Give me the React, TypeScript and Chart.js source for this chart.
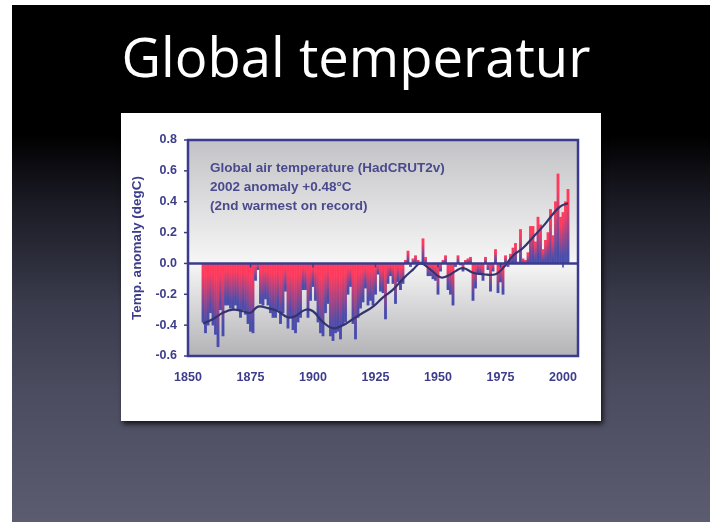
import React, { useEffect, useRef } from "react";
import { Chart, registerables } from "chart.js";

Chart.register(...registerables);

// ---- data ----
const FIRST_YEAR = 1856;
const ANOMALY = [
  -0.38, -0.45, -0.40, -0.32, -0.40, -0.46, -0.54, -0.30, -0.47, -0.27,
  -0.27, -0.29, -0.30, -0.27, -0.30, -0.35, -0.30, -0.33, -0.39, -0.44,
  -0.45, -0.11, -0.04, -0.26, -0.27, -0.23, -0.27, -0.32, -0.35, -0.35,
  -0.30, -0.39, -0.32, -0.18, -0.42, -0.35, -0.43, -0.45, -0.38, -0.35,
  -0.17, -0.17, -0.35, -0.24, -0.15, -0.24, -0.38, -0.45, -0.47, -0.32,
  -0.26, -0.47, -0.50, -0.45, -0.44, -0.49, -0.40, -0.38, -0.20, -0.15,
  -0.39, -0.49, -0.35, -0.29, -0.25, -0.16, -0.27, -0.24, -0.27, -0.20,
  -0.07, -0.18, -0.19, -0.36, -0.13, -0.08, -0.13, -0.26, -0.12, -0.17,
  -0.13, 0.02, 0.08, -0.02, 0.03, 0.05, 0.02, 0.01, 0.16, 0.04,
  -0.08, -0.08, -0.10, -0.11, -0.20, -0.05, 0.02, 0.05, -0.17, -0.20,
  -0.27, -0.02, 0.05, -0.01, -0.05, 0.02, 0.03, 0.04, -0.24, -0.16,
  -0.06, -0.07, -0.11, 0.04, -0.04, -0.18, -0.05, 0.09, -0.19, -0.12,
  -0.20, 0.05, -0.02, 0.06, 0.10, 0.13, 0.01, 0.22, 0.03, 0.02,
  0.07, 0.24, 0.24, 0.14, 0.30, 0.25, 0.09, 0.15, 0.20, 0.35,
  0.18, 0.40, 0.58, 0.30, 0.33, 0.40, 0.48,
];
const SMOOTH_YEARS = [
  1856, 1860, 1864, 1868, 1872, 1875, 1878, 1882, 1886, 1890, 1893, 1897,
  1900, 1904, 1908, 1912, 1916, 1920, 1924, 1928, 1932, 1936, 1940, 1943,
  1947, 1951, 1954, 1957, 1960, 1964, 1968, 1973, 1976, 1980, 1984, 1988,
  1992, 1996, 1999, 2002,
];
const SMOOTH_VALUES = [
  -0.39, -0.36, -0.32, -0.30, -0.31, -0.32, -0.28, -0.29, -0.31, -0.35, -0.34, -0.30,
  -0.31, -0.38, -0.42, -0.40, -0.36, -0.32, -0.28, -0.22, -0.17, -0.10, -0.04, 0.0,
  -0.04, -0.09, -0.08, -0.05, -0.03, -0.06, -0.07, -0.07, -0.03, 0.05, 0.10, 0.17,
  0.24, 0.32, 0.37, 0.39,
];
const X_TICKS = [1850, 1875, 1900, 1925, 1950, 1975, 2000];
const Y_TICKS = [-0.6, -0.4, -0.2, 0.0, 0.2, 0.4, 0.6, 0.8];
const NOTE_LINES = [
  "Global air temperature (HadCRUT2v)",
  "2002 anomaly +0.48\u00B0C",
  "(2nd warmest on record)",
];

const NAVY = "#3b3b8d";
const TEXT_NAVY = "#3d3d8c";
const RED = "#ff3a5c";
const BLUE = "#4a4cab";
const FONT = "'Liberation Sans', Arial, sans-serif";

const framePlugin = {
  id: "frame",
  beforeDatasetsDraw(chart: any) {
    const { ctx, chartArea: a, scales } = chart;
    const y0 = scales.y.getPixelForValue(0);
    const g = ctx.createLinearGradient(0, a.top, 0, a.bottom);
    const z = (y0 - a.top) / (a.bottom - a.top);
    g.addColorStop(0, "#c3c3c7");
    g.addColorStop(z, "#f6f6f6");
    g.addColorStop(1, "#b3b3b7");
    ctx.save();
    ctx.fillStyle = g;
    ctx.fillRect(a.left, a.top, a.right - a.left, a.bottom - a.top);
    ctx.restore();
  },
  afterDatasetsDraw(chart: any) {
    const { ctx, chartArea: a, scales } = chart;
    const y0 = scales.y.getPixelForValue(0);
    ctx.save();
    ctx.strokeStyle = NAVY;
    ctx.lineWidth = 2.5;
    ctx.beginPath();
    ctx.moveTo(a.left, y0);
    ctx.lineTo(a.right, y0);
    ctx.stroke();
    ctx.lineWidth = 1.5;
    X_TICKS.forEach((t) => {
      const x = scales.x.getPixelForValue(t);
      if (x <= a.left + 2) return;
      ctx.beginPath();
      ctx.moveTo(x, y0);
      ctx.lineTo(x, y0 + 4);
      ctx.stroke();
    });
    Y_TICKS.forEach((t) => {
      const y = scales.y.getPixelForValue(t);
      ctx.beginPath();
      ctx.moveTo(a.left - 4, y);
      ctx.lineTo(a.left, y);
      ctx.stroke();
    });
    ctx.lineWidth = 2.5;
    ctx.strokeRect(a.left, a.top, a.right - a.left, a.bottom - a.top);
    ctx.fillStyle = "#4a4a8e";
    ctx.font = `bold 13.5px ${FONT}`;
    ctx.textBaseline = "middle";
    ctx.textAlign = "left";
    NOTE_LINES.forEach((s, i) => {
      ctx.fillText(s, a.left + 22, a.top + 28 + i * 19);
    });
    ctx.restore();
  },
};

export default function App() {
  const ref = useRef<HTMLCanvasElement>(null);
  useEffect(() => {
    const canvas = ref.current!;
    const bars = ANOMALY.map((v, i) => ({ x: FIRST_YEAR + i, y: v }));
    const smooth = SMOOTH_YEARS.map((yr, i) => ({ x: yr, y: SMOOTH_VALUES[i] }));
    const chart = new Chart(canvas, {
      type: "bar",
      data: {
        datasets: [
          {
            type: "line",
            data: smooth,
            borderColor: "#33336f",
            borderWidth: 2.2,
            pointRadius: 0,
            tension: 0.45,
            order: 0,
          } as any,
          {
            type: "bar",
            data: bars,
            order: 1,
            barThickness: 2.2,
            borderWidth: 0,
            backgroundColor: (c: any) => {
              const ch = c.chart;
              const sc = ch.scales && ch.scales.y;
              if (!sc || !ch.chartArea || !c.parsed) return BLUE;
              const y0 = sc.getPixelForValue(0);
              const y1 = sc.getPixelForValue(c.parsed.y);
              const top = Math.min(y0, y1);
              const bot = Math.max(y0, y1);
              if (bot - top < 1) return BLUE;
              const g = ch.ctx.createLinearGradient(0, top, 0, bot);
              g.addColorStop(0, RED);
              g.addColorStop(0.18, RED);
              g.addColorStop(0.85, BLUE);
              g.addColorStop(1, BLUE);
              return g;
            },
          } as any,
        ],
      },
      options: {
        animation: false,
        responsive: false,
        devicePixelRatio: 1,
        layout: { padding: { top: 27, right: 23, left: 0, bottom: 0 } },
        plugins: { legend: { display: false }, tooltip: { enabled: false } },
        scales: {
          x: {
            type: "linear",
            offset: false,
            min: 1850,
            max: 2006,
            grid: { display: false, drawTicks: false, offset: false },
            border: { display: false },
            afterFit: (s: any) => {
              s.height = 65;
            },
            afterBuildTicks: (s: any) => {
              s.ticks = X_TICKS.map((v) => ({ value: v }));
            },
            ticks: {
              autoSkip: false,
              maxRotation: 0,
              padding: 14,
              color: TEXT_NAVY,
              font: { family: FONT, size: 12.5, weight: "bold" },
              callback: (v: any) => String(v),
            },
          },
          y: {
            min: -0.6,
            max: 0.8,
            grid: { display: false, drawTicks: false },
            border: { display: false },
            afterFit: (s: any) => {
              s.width = 67;
            },
            afterBuildTicks: (s: any) => {
              s.ticks = Y_TICKS.map((v) => ({ value: v }));
            },
            ticks: {
              padding: 11,
              color: TEXT_NAVY,
              font: { family: FONT, size: 12.5, weight: "bold" },
              callback: (v: any) => Number(v).toFixed(1),
            },
            title: {
              display: true,
              text: "Temp. anomaly (degC)",
              color: TEXT_NAVY,
              font: { family: FONT, size: 13.5, weight: "bold" },
              padding: { top: 8, bottom: 0 },
            },
          },
        },
      },
      plugins: [framePlugin],
    });
    return () => chart.destroy();
  }, []);

  return (
    <div
      style={{
        position: "fixed",
        left: 0,
        top: 0,
        width: 717,
        height: 522,
        background: "#ffffff",
        overflow: "hidden",
      }}
    >
      <div
        style={{
          position: "absolute",
          left: 12,
          top: 5,
          width: 698,
          height: 517,
          background:
            "linear-gradient(to bottom, #000000 0%, #000000 25%, #1a1a24 38%, #3a3b4c 58%, #4b4c5f 75%, #5b5c70 100%)",
        }}
      />
      <div
        style={{
          position: "absolute",
          left: 7,
          width: 698,
          top: 18,
          textAlign: "center",
          color: "#ffffff",
          fontFamily: "'Open Sans', sans-serif",
          fontSize: 54.4,
          lineHeight: "76px",
          whiteSpace: "nowrap",
        }}
      >
        Global temperatur
      </div>
      <div
        style={{
          position: "absolute",
          left: 121,
          top: 113,
          width: 480,
          height: 308,
          background: "#ffffff",
          boxShadow: "2px 3px 5px rgba(0,0,0,0.75)",
        }}
      >
        <canvas ref={ref} width={480} height={308} style={{ display: "block", width: 480, height: 308 }} />
      </div>
    </div>
  );
}
